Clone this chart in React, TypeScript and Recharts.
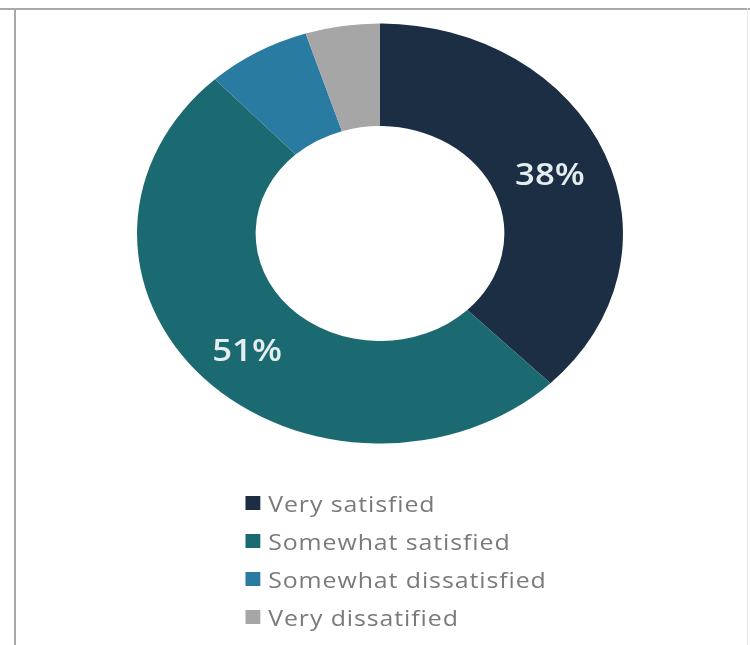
import { PieChart, Pie, Cell } from 'recharts'

const categories = ['Very satisfied', 'Somewhat satisfied', 'Somewhat dissatisfied', 'Very dissatified']
const shares = [38, 51, 7, 5]
const colors = ['#1b2e44', '#1c6a71', '#2a7ba1', '#a6a6a6']

const data = categories.map((name, i) => ({ name, value: shares[i] }))

// the reference is stretched sideways, so draw narrow and scale x
const STRETCH = 1.157
const W = 750
const H = 645
const RAD = Math.PI / 180

const renderLabel = (props: any) => {
  const { cx, cy, midAngle, innerRadius, outerRadius, percent, value } = props
  if (percent < 0.1) return null
  const r = (innerRadius + outerRadius) / 2
  const x = cx + r * Math.cos(-midAngle * RAD)
  const y = cy + r * Math.sin(-midAngle * RAD) + (y0 => (y0 > 0 ? 6 : 0))(Math.sin(-midAngle * RAD))
  return (
    <text x={x} y={y} fill="#e4edf0" textAnchor="middle" dominantBaseline="central" fontSize={30} fontWeight={600} fontFamily="Open Sans">
      {`${value}%`}
    </text>
  )
}

export default function App() {
  return (
    <div style={{ position: 'relative', width: W, height: H, background: '#fff', overflow: 'hidden' }}>
      <style>{`body{margin:0}`}</style>
      <div style={{ position: 'absolute', left: 0, top: 8, width: W, height: 2, background: '#a8a8a8' }} />
      <div style={{ position: 'absolute', left: 14, top: 8, width: 2, height: H, background: '#a8a8a8' }} />
      <div style={{ position: 'absolute', left: 747, top: 8, width: 1, height: H, background: '#e6e6e6' }} />
      <div style={{ position: 'absolute', left: 0, top: 0, transform: `scaleX(${STRETCH})`, transformOrigin: '0 0' }}>
        <PieChart width={W / STRETCH} height={470} margin={{ top: 0, right: 0, bottom: 0, left: 0 }}>
          <Pie
            data={data}
            dataKey="value"
            nameKey="name"
            cx={380 / STRETCH}
            cy={233.5}
            innerRadius={107.5}
            outerRadius={210}
            startAngle={90}
            endAngle={-270}
            stroke="none"
            label={renderLabel}
            labelLine={false}
            isAnimationActive={false}
          >
            {data.map((d, i) => (
              <Cell key={d.name} fill={colors[i]} />
            ))}
          </Pie>
        </PieChart>
        <ul style={{ position: 'absolute', left: 245 / STRETCH, top: 484, listStyle: 'none', margin: 0, padding: 0, width: 320 }}>
          {categories.map((name, i) => (
            <li key={name} style={{ display: 'flex', alignItems: 'center', height: 38 }}>
              <span style={{ display: 'inline-block', width: 13, height: 14, background: colors[i], marginRight: 7 }} />
              <span style={{ color: '#7a7a7a', fontSize: 21.5, letterSpacing: 0.8, fontFamily: 'Open Sans' }}>{name}</span>
            </li>
          ))}
        </ul>
      </div>
    </div>
  )
}
